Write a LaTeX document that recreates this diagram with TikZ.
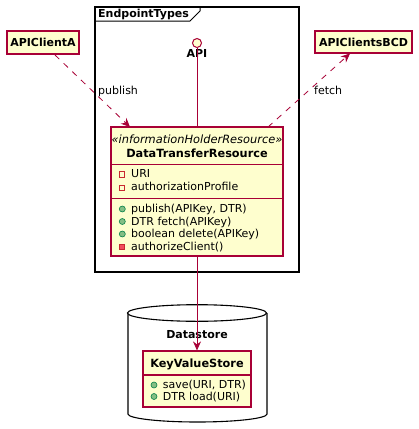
\documentclass[tikz,border=0pt]{standalone}
\usepackage{fontspec}
\setmainfont{DejaVu Sans}
\usetikzlibrary{arrows.meta}
\definecolor{umlfill}{HTML}{FEFECE}
\definecolor{umlred}{HTML}{A80036}
\definecolor{privred}{HTML}{C82930}
\definecolor{privfill}{HTML}{F24D5C}
\definecolor{pubgreen}{HTML}{038048}
\definecolor{pubfill}{HTML}{84BE84}
\tikzset{
  umlbox/.style={draw=umlred, fill=umlfill, line width=1.2pt, inner sep=0pt},
  member/.style={anchor=base west, inner sep=0pt, font=\fontsize{11}{13}\selectfont},
  privfield/.style={draw=privred, line width=0.7pt, fill=none},
  pubmethod/.style={draw=pubgreen, fill=pubfill, line width=0.6pt},
  privmethod/.style={draw=privred, fill=privfill, line width=0.6pt},
  umlarrow/.style={draw=umlred, line width=0.8pt, -{Stealth[length=9pt,width=8pt,inset=3pt]}},
  umldash/.style={dash pattern=on 6pt off 6pt},
  lbl/.style={inner sep=0pt, font=\fontsize{11}{13}\selectfont}
}
\begin{document}
\begin{tikzpicture}[x=1pt,y=-1pt]
\useasboundingbox (0,0) rectangle (419,429);
\fill[white] (0,0) rectangle (419,429);

% Frame EndpointTypes
\draw[line width=1.5pt] (95,7) rectangle (299,272);
\draw[line width=1pt] (95,21) -- (190,21) -- (200,11) -- (200,7);
\node[anchor=base west, inner sep=0pt, font=\bfseries\fontsize{11}{13}\selectfont] (frameLbl) at (98,17) {EndpointTypes};

% API interface
\node[circle, draw=umlred, fill=umlfill, line width=1pt, minimum size=9pt, inner sep=0pt] (api) at (197,43) {};
\node[anchor=base, inner sep=0pt, font=\bfseries\fontsize{11}{13}\selectfont] (apiLbl) at (197,57.3) {API};

% Clients
\node[umlbox, minimum width=72pt, minimum height=23pt, font=\bfseries\fontsize{11}{13}\selectfont] (clientA) at (43,42.5) {APIClientA};
\node[umlbox, minimum width=97pt, minimum height=22pt, font=\bfseries\fontsize{11}{13}\selectfont] (clientB) at (363.5,42) {APIClientsBCD};

% DataTransferResource class
\node[umlbox, minimum width=172pt, minimum height=129pt] (dtr) at (197,191.5) {};
\coordinate (sepA) at (0,164.3);
\coordinate (sepB) at (0,198.3);
\draw[umlred, line width=1.1pt] (dtr.west |- sepA) -- (dtr.east |- sepA);
\draw[umlred, line width=1.1pt] (dtr.west |- sepB) -- (dtr.east |- sepB);
\node[anchor=base, inner sep=0pt, font=\itshape\fontsize{11.4}{13}\selectfont] (dtrSt) at (197,143) {«informationHolderResource»};
\node[anchor=base, inner sep=0pt, font=\bfseries\fontsize{11.3}{13}\selectfont] (dtrName) at (197,157.3) {DataTransferResource};

\draw[privfield] (119.3,171.8) rectangle (124.7,177.2);
\node[member] (fURI) at (131,177) {URI};
\draw[privfield] (119.3,185.3) rectangle (124.7,190.7);
\node[member] (fAuth) at (131,190.5) {authorizationProfile};

\draw[pubmethod] (122.3,209) circle (3pt);
\node[member] (mPub) at (131,212.5) {publish(APIKey, DTR)};
\draw[pubmethod] (122.3,221.5) circle (3pt);
\node[member] (mFetch) at (131,225) {DTR fetch(APIKey)};
\draw[pubmethod] (122.3,234) circle (3pt);
\node[member] (mDel) at (131,237.5) {boolean delete(APIKey)};
\draw[privmethod] (119.3,244) rectangle (124.7,249.4);
\node[member] (mAuth) at (131,250) {authorizeClient()};

% API lollipop line
\draw[umlred, line width=0.8pt] (api.south) -- (api.south |- dtr.north);

% Datastore cylinder
\draw[line width=1.1pt, fill=white] (128,313) -- (128,414) arc[start angle=180, end angle=360, x radius=69.5pt, y radius=8pt] -- (267,313);
\draw[line width=1.1pt, fill=white] (197,313) ellipse[x radius=69.5pt, y radius=8.3pt];
\node[anchor=base, inner sep=0pt, font=\bfseries\fontsize{11}{13}\selectfont] (dsLbl) at (197,338) {Datastore};

% KeyValueStore class
\node[umlbox, minimum width=108pt, minimum height=56pt] (kvs) at (197,379) {};
\coordinate (sepC) at (0,375);
\draw[umlred, line width=1.1pt] (kvs.west |- sepC) -- (kvs.east |- sepC);
\node[anchor=base, inner sep=0pt, font=\bfseries\fontsize{11.3}{13}\selectfont] (kvsName) at (197,367) {KeyValueStore};
\draw[pubmethod] (154,385) circle (3pt);
\node[member] (mSave) at (162.7,388.5) {save(URI, DTR)};
\draw[pubmethod] (154,396.5) circle (3pt);
\node[member] (mLoad) at (162.7,400) {DTR load(URI)};

% Connectors
\coordinate (pubStart) at (55,55);
\coordinate (pubEnd) at (130,127);
\draw[umlarrow, umldash] (pubStart) -- (pubEnd);
\node[lbl, anchor=base west] (pubLbl) at (98,94.5) {publish};

\coordinate (fetchStart) at (268,127);
\coordinate (fetchEnd) at (350,53.5);
\draw[umlarrow, umldash] (fetchStart) -- (fetchEnd);
\node[lbl, anchor=base west] (fetchLbl) at (314,94.5) {fetch};

\draw[umlarrow] (dtr.south) -- (kvs.north);
\end{tikzpicture}
\end{document}
